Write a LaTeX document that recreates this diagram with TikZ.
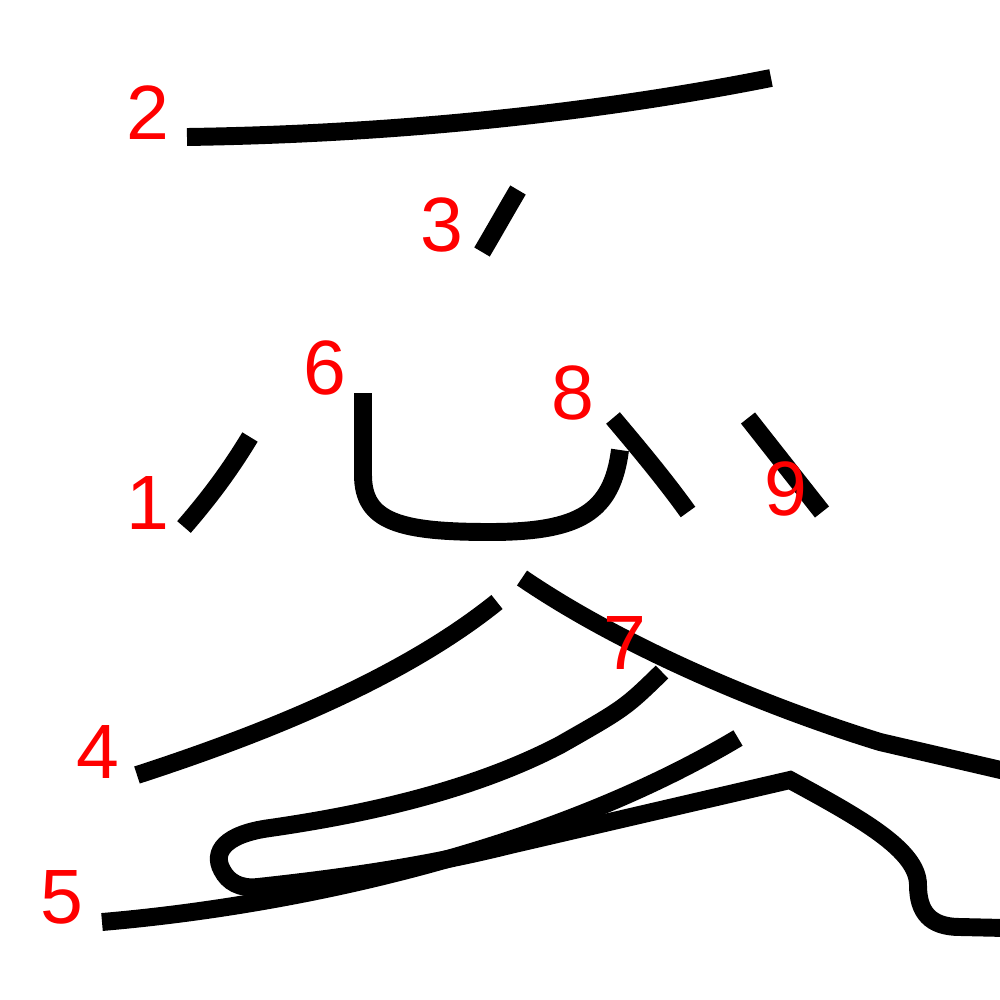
\documentclass[tikz,border=0pt]{standalone}
\usepackage{fontspec}
\setmainfont{Liberation Sans}
\begin{document}
\begin{tikzpicture}[x=0.01cm,y=-0.01cm,
  stroke/.style={line width=5.1pt,black},
  lbl/.style={text=red,font=\fontsize{21.9pt}{22pt}\selectfont,inner sep=0pt}]
\fill[white] (0,0) rectangle (1000,1000);
\useasboundingbox (0,0) rectangle (1000,1000);
\begin{scope}
\clip (0,0) rectangle (1000,1000);
% stroke 2
\draw[stroke] (187,137) .. controls (400,134) and (600,112) .. (771,78);
% stroke 3
\draw[stroke] (518,190) .. controls (505,212) and (495,230) .. (482,252);
% stroke 1
\draw[stroke] (250,437) .. controls (230,470) and (210,497) .. (184,527);
% stroke 6
\draw[stroke] (363,393) -- (363,475) .. controls (363,522) and (400,532) .. (490,532) .. controls (580,532) and (612,512) .. (620,450);
% stroke 8
\draw[stroke] (613,418) .. controls (640,450) and (665,480) .. (688,512);
% stroke 9
\draw[stroke] (748,418) -- (822,512);
% stroke 4
\draw[stroke] (497,602) .. controls (400,680) and (260,735) .. (137,775);
% long diagonal
\draw[stroke] (522,578) .. controls (620,645) and (760,705) .. (880,742) -- (1005,771);
% hooked stroke
\draw[stroke] (662,672) .. controls (625,708) .. (560,745) .. controls (470,792) and (360,815) .. (270,828) .. controls (225,834) and (212,852) .. (222,870) .. controls (228,882) and (240,889) .. (258,887) .. controls (350,877) and (430,865) .. (510,845) -- (790,780) .. controls (860,818) and (918,850) .. (918,885) .. controls (918,912) and (930,927) .. (960,927) -- (1005,928);
% stroke 5
\draw[stroke] (102,922) .. controls (300,905) and (550,850) .. (738,738);
\end{scope}
\node[lbl] (n1) at (148,503) {1};
\node[lbl] (n2) at (148,113) {2};
\node[lbl] (n3) at (442,225) {3};
\node[lbl] (n4) at (98,752) {4};
\node[lbl] (n5) at (62,897) {5};
\node[lbl] (n6) at (325,368) {6};
\node[lbl] (n7) at (625,643) {7};
\node[lbl] (n8) at (573,393) {8};
\node[lbl] (n9) at (786,489) {9};
\end{tikzpicture}
\end{document}
